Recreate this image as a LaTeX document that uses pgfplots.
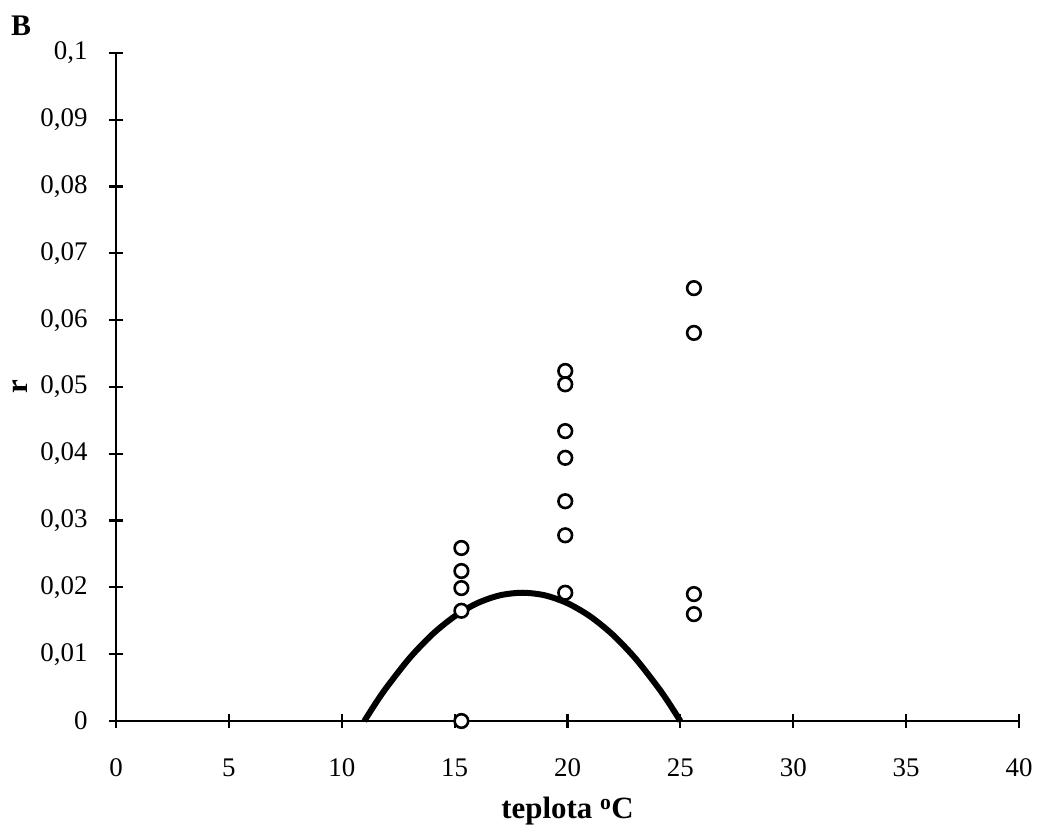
\documentclass[border=0pt]{standalone}
\usepackage{fontspec}
\setmainfont{Liberation Serif}
\usepackage{pgfplots}
\pgfplotsset{compat=1.18}
\begin{document}
\begin{tikzpicture}[x=1bp,y=1bp]
\begin{axis}[
  at={(0,0)}, anchor=south west,
  scale only axis,
  width=903bp, height=668bp,
  xmin=0, xmax=40, ymin=0, ymax=0.1,
  axis lines=left,
  axis line style={line width=2.2bp, -},
  tick align=center,
  major tick length=14bp,
  tick style={line width=2.2bp, black},
  xtick={0,5,10,15,20,25,30,35,40},
  xticklabels={0,5,10,15,20,25,30,35,40},
  ytick={0,0.01,0.02,0.03,0.04,0.05,0.06,0.07,0.08,0.09,0.1},
  yticklabels={0,{0,01},{0,02},{0,03},{0,04},{0,05},{0,06},{0,07},{0,08},{0,09},{0,1}},
  tick label style={font=\fontsize{27}{32}\selectfont},
  xticklabel style={yshift=-27bp},
  yticklabel style={xshift=-18bp},
  xlabel={\textbf{teplota \textsuperscript{o}C}},
  ylabel={\textbf{r}},
  label style={font=\fontsize{31}{36}\selectfont},
  xlabel style={yshift=-14bp},
  ylabel style={yshift=6bp},
  clip=false,
]
\addplot[line width=6bp, black, smooth, no markers] coordinates {
 (11,0) (11.5,0.00265) (12,0.00509) (13,0.00940) (14,0.01293) (15,0.01567)
 (16,0.01763) (17,0.01881) (18,0.0192) (19,0.01881) (20,0.01763)
 (21,0.01567) (22,0.01293) (23,0.00940) (24,0.00509) (24.5,0.00265) (25,0)
};
\addplot[only marks, mark=*, mark size=6.8bp, mark options={fill=white, draw=black, line width=2.6bp}] coordinates {
 (15.3,0.0259) (15.3,0.02245) (15.3,0.0199) (15.3,0.0165) (15.3,0)
 (19.9,0.0524) (19.9,0.0504) (19.9,0.0434) (19.9,0.0394) (19.9,0.0329) (19.9,0.0278) (19.9,0.0192)
 (25.6,0.0648) (25.6,0.0581) (25.6,0.0190) (25.6,0.0160)
};
\end{axis}
\node[font=\fontsize{30}{36}\selectfont\bfseries, anchor=north west, inner sep=0pt] at (-105bp,705bp) {B};
\pgfresetboundingbox
\path[use as bounding box] (-116bp,-114bp) rectangle (922bp,721bp);
\end{tikzpicture}
\end{document}
